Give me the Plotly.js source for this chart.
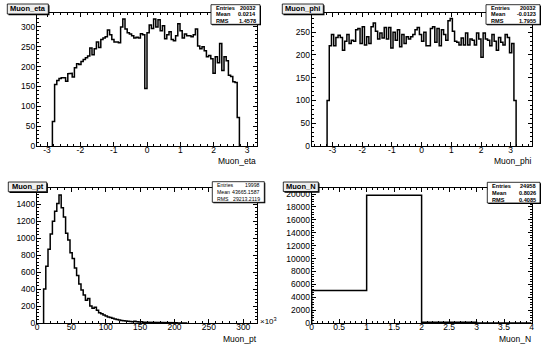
<!DOCTYPE html>
<html><head>
<script src="https://cdn.plot.ly/plotly-3.0.1.min.js"></script>
<style>body{margin:0;background:#fff}#c{width:550px;height:355px}</style>
</head><body><div id="c"></div>
<script>
// ---- data ----
const etaRange = [-3.3, 3.3], etaNbins = 100, etaFirstBin = 7;
const etaCounts = [62,155,165,170,172,172,163,182,183,174,197,207,205,213,218,222,227,247,230,245,262,248,268,272,275,292,280,268,262,262,260,300,320,295,285,282,278,272,274,272,283,280,145,285,305,296,320,300,318,290,303,270,280,288,268,265,278,308,290,272,282,278,278,275,280,295,252,245,250,240,225,228,220,183,225,210,258,190,225,215,178,175,162,160,72];
const phiRange = [-3.7, 3.7], phiNbins = 100, phiFirstBin = 7;
const phiCounts = [100,220,245,220,238,243,238,210,230,245,225,232,230,255,258,225,262,222,240,225,262,270,252,235,248,237,260,235,260,215,250,232,255,218,245,225,240,235,240,245,255,260,245,230,250,220,220,258,262,228,258,220,255,245,232,275,280,252,230,228,222,237,222,248,222,235,232,222,248,235,195,248,235,232,220,245,230,210,238,228,222,245,238,205,225,100];
const ptRange = [0, 320], ptNbins = 100, ptFirstBin = 3;   // x10^3 MeV
const ptCounts = [400,670,870,1050,1200,1320,1410,1510,1360,1250,1060,980,830,760,650,560,460,390,330,270,290,200,175,185,150,120,110,95,82,72,65,55,48,40,35,30,28,25,22,18,16,20,14,12,15,10,9,8,10,7,6,5,6,4,5,3,4,3,3,2,2,3,2,1,1];
const nRange = [0, 4], nNbins = 4, nFirstBin = 0;
const nCounts = [5031, 19822, 105, 0];

const titles = ["Muon_eta", "Muon_phi", "Muon_pt", "Muon_N"];
const statLabels = ["Entries", "Mean", "RMS"];
const statEta = ["20032", "0.0214", "1.4578"];
const statPhi = ["20032", "-0.0123", "1.7955"];
const statPt  = ["19998", "43665.1587", "29213.2119"];
const statN   = ["24958", "0.8026", "0.4085"];

const etaTicks = [-3,-2,-1,0,1,2,3];
const phiTicks = [-3,-2,-1,0,1,2,3];

// ---- helpers ----
function steps(range, nb, first, counts){
  const w = (range[1]-range[0])/nb;
  const x = [range[0]+first*w], y = [0];
  counts.forEach((c,i)=>{ const lo = range[0]+(first+i)*w; x.push(lo, lo+w); y.push(c, c); });
  x.push(range[0]+(first+counts.length)*w); y.push(0);
  return {x, y};
}
const W = 550, H = 355;
const px = v => v/W, py = v => 1 - v/H;
const FONT = "Liberation Sans, Arial, Helvetica, sans-serif";

function axis(dom, range, dtick, mdtick, opts){
  return Object.assign({
    domain: dom, range: range, showgrid:false, zeroline:false,
    showline:true, linecolor:'#000', linewidth:1, mirror:'ticks',
    ticks:'inside', ticklen:4, tickwidth:1, tickcolor:'#000',
    dtick: dtick, tick0: 0,
    minor:{ticks:'inside', ticklen:2, dtick:mdtick, tick0:0, tickcolor:'#000', showgrid:false},
    tickfont:{family:FONT, size:8.5, color:'#000'},
    fixedrange:true
  }, opts||{});
}
const XS = -4, YS = -1;

const xL = [px(37), px(257)], xR = [px(311.7), px(531.5)];
const yT = [py(146), py(13)], yB = [py(323), py(188.3)];

const line = {color:'#000', width:1.5, shape:'linear'};
const hEta = steps(etaRange, etaNbins, etaFirstBin, etaCounts);
const hPhi = steps(phiRange, phiNbins, phiFirstBin, phiCounts);
const hPt  = steps(ptRange, ptNbins, ptFirstBin, ptCounts);
const hN   = steps(nRange, nNbins, nFirstBin, nCounts);

const data = [
  {x:hEta.x, y:hEta.y, xaxis:'x',  yaxis:'y',  mode:'lines', line, hoverinfo:'skip'},
  {x:hPhi.x, y:hPhi.y, xaxis:'x2', yaxis:'y2', mode:'lines', line, hoverinfo:'skip'},
  {x:hPt.x,  y:hPt.y,  xaxis:'x3', yaxis:'y3', mode:'lines', line, hoverinfo:'skip'},
  {x:hN.x,   y:hN.y,   xaxis:'x4', yaxis:'y4', mode:'lines', line, hoverinfo:'skip'}
];

const layout = {
  width:W, height:H, margin:{l:0,r:0,t:0,b:0},
  paper_bgcolor:'#fff', plot_bgcolor:'#fff', showlegend:false,
  font:{family:FONT, color:'#000'},
  xaxis:  axis(xL, etaRange, 1, 0.2, {anchor:'y', tickmode:'array', tickvals:etaTicks, ticktext:etaTicks.map(String), ticklabelstandoff:XS}),
  yaxis:  axis(yT, [0,335], 50, 10, {anchor:'x', ticklabelstandoff:YS}),
  xaxis2: axis(xR, phiRange, 1, 0.2, {anchor:'y2', tickmode:'array', tickvals:phiTicks, ticktext:phiTicks.map(String), ticklabelstandoff:XS}),
  yaxis2: axis(yT, [0,292], 50, 10, {anchor:'x2', ticklabelstandoff:YS}),
  xaxis3: axis(xL, ptRange, 50, 10, {anchor:'y3', ticklabelstandoff:XS}),
  yaxis3: axis(yB, [0,1590], 200, 40, {anchor:'x3', ticklabelstandoff:YS}),
  xaxis4: axis(xR, nRange, 0.5, 0.1, {anchor:'y4', ticklabelstandoff:XS}),
  yaxis4: axis(yB, [0,20900], 2000, 400, {anchor:'x4', tickformat:'d', ticklabelstandoff:YS}),
  shapes: [], annotations: []
};

// title boxes
function titleBox(x0,x1,y0,y1,text){
  layout.shapes.push({type:'rect', xref:'paper', yref:'paper', x0:px(x0+1.2), x1:px(x1+1.2), y0:py(y1+1.2), y1:py(y0+1.2), fillcolor:'#000', line:{width:0}});
  layout.shapes.push({type:'rect', xref:'paper', yref:'paper', x0:px(x0), x1:px(x1), y0:py(y1), y1:py(y0), fillcolor:'#eeeeee', line:{color:'#000', width:0.8}});
  layout.annotations.push({xref:'paper', yref:'paper', x:px((x0+x1)/2), y:py((y0+y1)/2), text:'<b>'+text+'</b>', showarrow:false, xanchor:'center', yanchor:'middle', font:{family:FONT, size:7.5, color:'#000'}});
}
titleBox(7.3,48.3,4,14,titles[0]);
titleBox(282.3,323.3,4,14,titles[1]);
titleBox(8.3,46.7,182,191.7,titles[2]);
titleBox(283.3,318.3,182,191.5,titles[3]);

// stats boxes
function statBox(x0,x1,y0,y1,vals,fs,bold){
  layout.shapes.push({type:'rect', xref:'paper', yref:'paper', x0:px(x0+1), x1:px(x1+1), y0:py(y1+1), y1:py(y0+1), fillcolor:'#000', line:{width:0}});
  layout.shapes.push({type:'rect', xref:'paper', yref:'paper', x0:px(x0), x1:px(x1), y0:py(y1), y1:py(y0), fillcolor:'#fff', line:{color:'#000', width:0.8}});
  const rh = (y1-y0)/3;
  for(let i=0;i<3;i++){
    const yc = y0 + rh*(i+0.5);
    const b = t => bold ? '<b>'+t+'</b>' : t;
    layout.annotations.push({xref:'paper', yref:'paper', x:px(x0+2.5), y:py(yc), text:b(statLabels[i]), showarrow:false, xanchor:'left', yanchor:'middle', font:{family:FONT, size:fs, color:'#000'}});
    layout.annotations.push({xref:'paper', yref:'paper', x:px(x1-2.5), y:py(yc), text:b(vals[i]), showarrow:false, xanchor:'right', yanchor:'middle', font:{family:FONT, size:fs, color:'#000'}});
  }
}
statBox(211,260,4.7,24.3,statEta,5.6,true);
statBox(486,540,4.7,24.3,statPhi,5.6,true);
statBox(212.3,264.3,181.7,202.3,statPt,5.2,false);
statBox(487.3,540,182.3,203,statN,5.6,true);

// axis titles
function axTitle(x,y,text){
  layout.annotations.push({xref:'paper', yref:'paper', x:px(x), y:py(y), text:text, showarrow:false, xanchor:'right', yanchor:'middle', font:{family:FONT, size:8.5, color:'#000'}});
}
axTitle(258,161,titles[0]);
axTitle(533,161,titles[1]);
axTitle(258.5,338.5,titles[2]);
axTitle(533,338.5,titles[3]);
layout.annotations.push({xref:'paper', yref:'paper', x:px(258), y:py(320.5), text:'×10<sup>3</sup>', showarrow:false, xanchor:'left', yanchor:'middle', font:{family:FONT, size:8, color:'#000'}});

Plotly.newPlot('c', data, layout, {staticPlot:true, displayModeBar:false});
</script>
</body></html>
